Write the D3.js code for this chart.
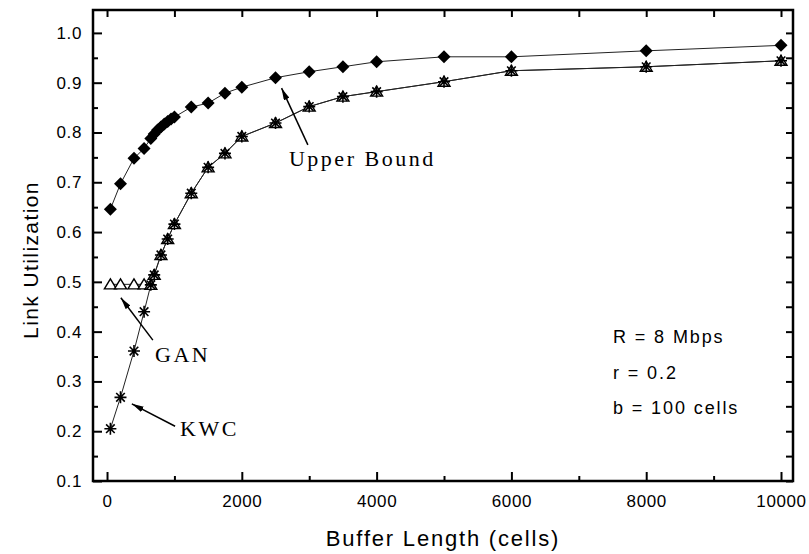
<!DOCTYPE html>
<html>
<head>
<meta charset="utf-8">
<script src="https://cdn.jsdelivr.net/npm/d3@7"></script>
<style>
  body { margin: 0; background: #fff; }
  svg { display: block; }
  .tick text { font-family: "Liberation Sans", Arial, sans-serif; font-size: 17px; letter-spacing: 0.6px; fill: #000; }
</style>
</head>
<body>
<svg width="809" height="554"></svg>
<script>
// buffer length (cells) / link utilization
var boundX = [50, 200, 400, 550, 650, 700, 750, 800, 850, 900, 950, 1000, 1250, 1500, 1750, 2000, 2500, 3000, 3500, 4000, 5000, 6000, 8000, 10000];
var boundY = [0.646, 0.697, 0.748, 0.768, 0.788, 0.797, 0.805, 0.811, 0.817, 0.822, 0.827, 0.831, 0.851, 0.859, 0.879, 0.891, 0.910, 0.922, 0.932, 0.942, 0.952, 0.952, 0.964, 0.975];

var kwcX = [50, 200, 400, 550, 650, 700, 800, 900, 1000, 1250, 1500, 1750, 2000, 2500, 3000, 3500, 4000, 5000, 6000, 8000, 10000];
var kwcY = [0.205, 0.268, 0.361, 0.440, 0.494, 0.514, 0.554, 0.586, 0.616, 0.678, 0.730, 0.758, 0.792, 0.819, 0.852, 0.872, 0.882, 0.902, 0.924, 0.932, 0.944];

var ganX = [50, 200, 400, 550, 650, 700, 800, 900, 1000, 1250, 1500, 1750, 2000, 2500, 3000, 3500, 4000, 5000, 6000, 8000, 10000];
var ganY = [0.495, 0.495, 0.495, 0.495, 0.494, 0.514, 0.554, 0.586, 0.616, 0.678, 0.730, 0.758, 0.792, 0.819, 0.852, 0.872, 0.882, 0.902, 0.924, 0.932, 0.944];

var xMajor = [0, 2000, 4000, 6000, 8000, 10000];
var xMinor = [1000, 3000, 5000, 7000, 9000];
var yMajor = [0.1, 0.2, 0.3, 0.4, 0.5, 0.6, 0.7, 0.8, 0.9, 1.0];
var yMinor = [0.15, 0.25, 0.35, 0.45, 0.55, 0.65, 0.75, 0.85, 0.95];

var notes = [
  {text: "Upper Bound", x: 2700, y: 0.733, from: [2980, 0.775], to: [2590, 0.889]},
  {text: "GAN", x: 712, y: 0.339, from: [680, 0.383], to: [205, 0.468]},
  {text: "KWC", x: 1083, y: 0.190, from: [1010, 0.210], to: [368, 0.255]}
];
var params = ["R = 8 Mbps", "r = 0.2", "b = 100 cells"];

var svg = d3.select("svg");
var pLeft = 93, pRight = 793, pTop = 10, pBottom = 481;

var x = d3.scaleLinear().domain([-208, 10178]).range([pLeft, pRight]);
var y = d3.scaleLinear().domain([0.1, 1.046]).range([pBottom, pTop]);

function zip(xs, ys) { return xs.map(function(v, i) { return [v, ys[i]]; }); }

// axes, ticks pointing inward
svg.append("g").attr("transform", "translate(0," + pBottom + ")")
  .call(d3.axisBottom(x).tickValues(xMajor).tickSize(-9).tickPadding(14).tickFormat(d3.format("d")));
svg.append("g").attr("transform", "translate(0," + pBottom + ")")
  .call(d3.axisBottom(x).tickValues(xMinor).tickSize(-5).tickFormat(""));
svg.append("g").attr("transform", "translate(" + pLeft + ",0)")
  .call(d3.axisLeft(y).tickValues(yMajor).tickSize(-9).tickPadding(11).tickFormat(d3.format(".1f")));
svg.append("g").attr("transform", "translate(" + pLeft + ",0)")
  .call(d3.axisLeft(y).tickValues(yMinor).tickSize(-5).tickFormat(""));
svg.append("g").attr("transform", "translate(0," + pTop + ")")
  .call(d3.axisTop(x).tickValues(xMajor.concat(xMinor)).tickSize(-7).tickFormat(""));
svg.append("g").attr("transform", "translate(" + pRight + ",0)")
  .call(d3.axisRight(y).tickValues(yMajor.concat(yMinor)).tickSize(-7).tickFormat(""));

svg.selectAll(".domain").remove();
svg.selectAll(".tick line").attr("stroke", "#000").attr("stroke-width", 2);

svg.append("rect")
  .attr("x", pLeft).attr("y", pTop)
  .attr("width", pRight - pLeft).attr("height", pBottom - pTop)
  .attr("fill", "none").attr("stroke", "#000").attr("stroke-width", 2.5);

// axis titles
svg.append("text")
  .attr("x", 443).attr("y", 546)
  .attr("text-anchor", "middle")
  .style("font-family", "Liberation Sans, Arial, sans-serif")
  .style("font-size", "22px").style("letter-spacing", "1.8px")
  .text("Buffer Length (cells)");

svg.append("text")
  .attr("transform", "translate(38,260) rotate(-90)")
  .attr("text-anchor", "middle")
  .style("font-family", "Liberation Sans, Arial, sans-serif")
  .style("font-size", "21px").style("letter-spacing", "1.4px")
  .text("Link Utilization");

// lines
var line = d3.line().x(function(d) { return x(d[0]); }).y(function(d) { return y(d[1]); });
[zip(boundX, boundY), zip(kwcX, kwcY), zip(ganX, ganY)].forEach(function(s) {
  svg.append("path").datum(s).attr("d", line)
    .attr("fill", "none").attr("stroke", "#222").attr("stroke-width", 1);
});

// markers
var star = "M-6,0H6M0,-6V6M-4.3,-4.3L4.3,4.3M-4.3,4.3L4.3,-4.3";
var tri = "M0,-5.5L6,4.5L-6,4.5Z";

svg.append("g").selectAll("path").data(zip(ganX, ganY)).enter().append("path")
  .attr("transform", function(d) { return "translate(" + x(d[0]) + "," + y(d[1]) + ")"; })
  .attr("d", tri).attr("fill", "#fff").attr("stroke", "#000").attr("stroke-width", 1.4);

svg.append("g").selectAll("path").data(zip(kwcX, kwcY)).enter().append("path")
  .attr("transform", function(d) { return "translate(" + x(d[0]) + "," + y(d[1]) + ")"; })
  .attr("d", star).attr("fill", "none").attr("stroke", "#000").attr("stroke-width", 1.6);

svg.append("g").selectAll("path").data(zip(boundX, boundY)).enter().append("path")
  .attr("transform", function(d) { return "translate(" + x(d[0]) + "," + y(d[1]) + ")"; })
  .attr("d", "M0,-6.5L6.5,0L0,6.5L-6.5,0Z").attr("fill", "#000");

// annotations
svg.append("defs").append("marker")
  .attr("id", "head").attr("viewBox", "0 0 12 6")
  .attr("refX", 12).attr("refY", 3)
  .attr("markerWidth", 12).attr("markerHeight", 6)
  .attr("markerUnits", "userSpaceOnUse")
  .attr("orient", "auto")
  .append("path").attr("d", "M0,0L12,3L0,6Z").attr("fill", "#000");

notes.forEach(function(n) {
  svg.append("line")
    .attr("x1", x(n.from[0])).attr("y1", y(n.from[1]))
    .attr("x2", x(n.to[0])).attr("y2", y(n.to[1]))
    .attr("stroke", "#000").attr("stroke-width", 1.5)
    .attr("marker-end", "url(#head)");
  svg.append("text")
    .attr("x", x(n.x)).attr("y", y(n.y))
    .style("font-family", "Liberation Serif, Times New Roman, serif")
    .style("font-size", "22px").style("letter-spacing", "2.5px")
    .text(n.text);
});

svg.append("g").selectAll("text").data(params).enter().append("text")
  .attr("x", x(7507))
  .attr("y", function(d, i) { return y(0.377) + i * 35.5; })
  .style("font-family", "Liberation Sans, Arial, sans-serif")
  .style("font-size", "18px").style("letter-spacing", "1.9px")
  .text(function(d) { return d; });
</script>
</body>
</html>
